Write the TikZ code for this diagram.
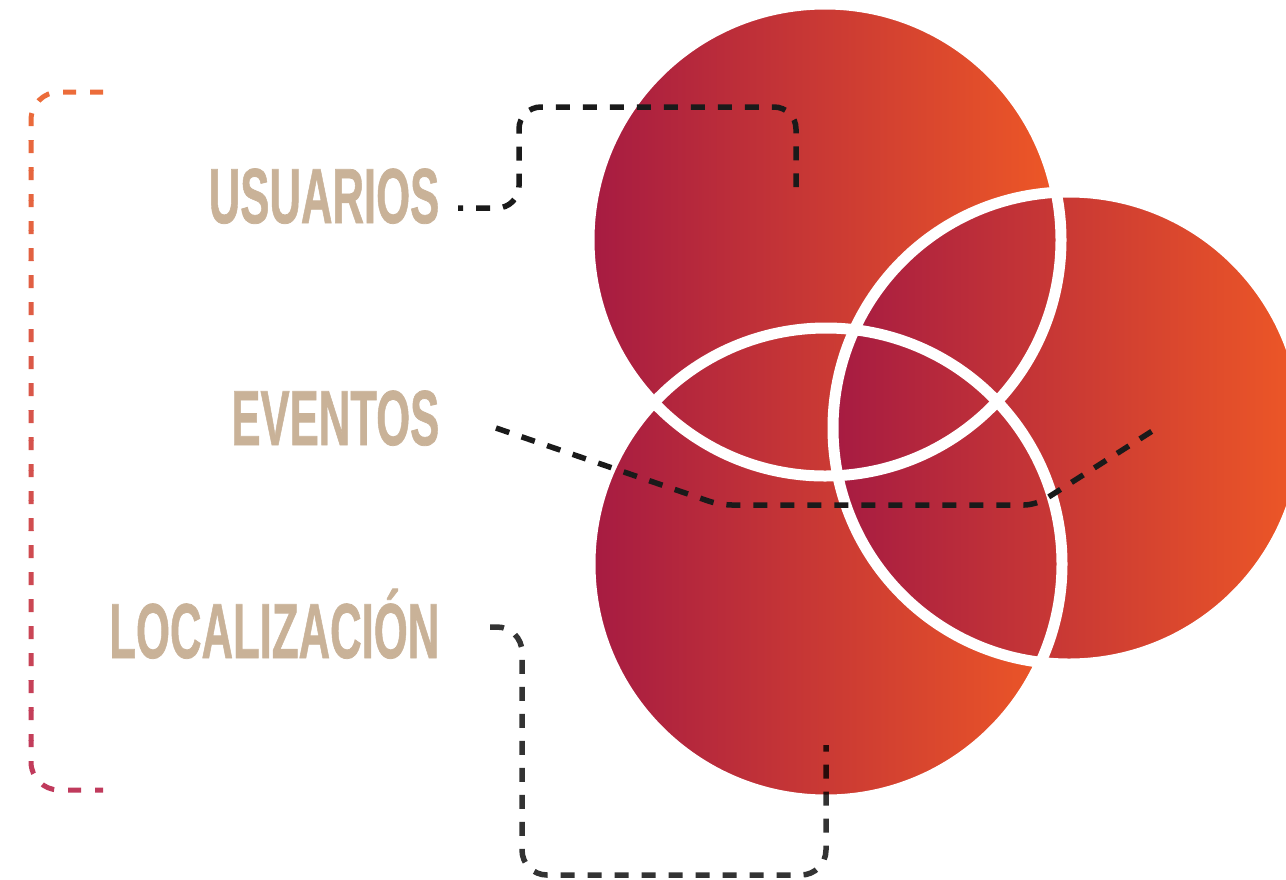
\documentclass[tikz,border=0pt]{standalone}
\usepackage{fontspec}
\newfontfamily\lab{Liberation Sans Bold}[FakeBold=1]
\definecolor{crim}{RGB}{166,27,66}
\definecolor{oran}{RGB}{238,88,38}
\definecolor{labtan}{RGB}{201,178,152}
\definecolor{brA}{RGB}{236,108,58}
\definecolor{brB}{RGB}{192,58,92}
\definecolor{ink}{RGB}{26,26,26}
\newcommand{\lbltext}[1]{\scalebox{0.56}[1]{#1}}
\begin{document}
\begin{tikzpicture}[x=1pt,y=-1pt,
  lbl/.style={font=\lab\fontsize{78}{80}\selectfont, text=labtan, inner sep=0pt, anchor=base east},
  disc/.style={left color=crim, right color=oran},
  ring/.style={draw=white, line width=11pt},
  conn/.style={draw=ink, line width=5.5pt, dash pattern=on 14pt off 13pt},
  connsoft/.style={draw=black, draw opacity=0.8, line width=5.5pt, dash pattern=on 14pt off 13pt},
  brk/.style={line width=5pt, dash pattern=on 13pt off 14pt, rounded corners=28pt}]
\useasboundingbox (0,0) rectangle (1286,879);
\clip (0,0) rectangle (1286,879);
\fill[white] (0,0) rectangle (1286,879);

% circles
\coordinate (ctop) at (825,240);
\coordinate (cbot) at (826,564);
\coordinate (crgt) at (1069,428);
\shade[disc] (ctop) circle[radius=236];
\shade[disc] (cbot) circle[radius=236];
\shade[disc] (crgt) circle[radius=236];
\draw[ring] (ctop) circle[radius=236];
\draw[ring] (cbot) circle[radius=236];
\draw[ring] (crgt) circle[radius=236];

% labels
\node[lbl] (usu) at (439.5,223) {\lbltext{USUARIOS}};
\node[lbl] (eve) at (439.5,445) {\lbltext{EVENTOS}};
\node[lbl] (loc) at (439.5,658) {\lbltext{LOCALIZACIÓN}};

% bracket (vertical colour gradient)
\coordinate (b1) at (103,92);
\coordinate (b2) at (103,790);
\foreach \i in {0,...,23} {
  \pgfmathtruncatemacro\p{round(100*\i/23)}
  \begin{scope}
    \clip (0,{80+\i*30}) rectangle (140,{80+(\i+1)*30});
    \draw[brk, draw=brB!\p!brA] (b1) -- (31,92) -- (31,790) -- (b2);
  \end{scope}
}

% connectors
\coordinate (u1) at (458,208);
\coordinate (u2) at (796,187);
\draw[conn, dash phase=9pt, rounded corners=22pt] (u1) -- (519,208) -- (519,107) -- (796,107) -- (u2);

\coordinate (e1) at (496,428);
\coordinate (e2) at (1157,428);
\draw[conn, rounded corners=12pt] (e1) -- (720,505) -- (1036,505) -- (e2);

\coordinate (l1) at (490,627);
\coordinate (l2) at (826,745);
\draw[connsoft, rounded corners=25pt] (l1) -- (522,627) -- (522,875) -- (826,875) -- (l2);
\end{tikzpicture}
\end{document}
